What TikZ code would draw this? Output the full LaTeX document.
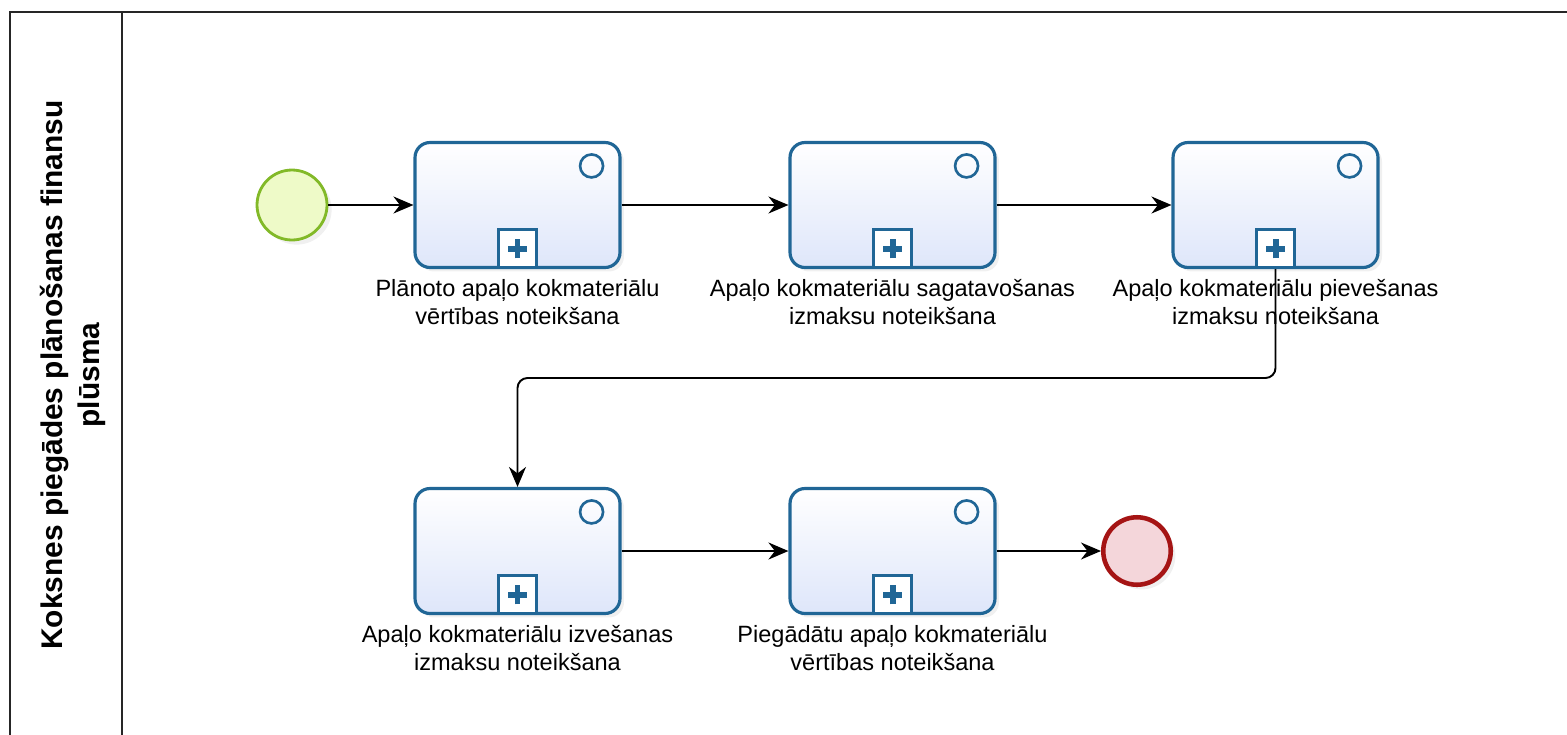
\documentclass[tikz,border=0pt]{standalone}
\usepackage{fontspec}
\setmainfont{Liberation Sans}
\usetikzlibrary{positioning,arrows.meta,calc,shadows}
\definecolor{taskline}{RGB}{32,102,150}
\definecolor{taskfill}{RGB}{222,230,250}
\definecolor{startline}{RGB}{130,185,40}
\definecolor{startfill}{RGB}{238,250,200}
\definecolor{endline}{RGB}{165,20,20}
\definecolor{endfill}{RGB}{244,214,218}
\begin{document}
\begin{tikzpicture}[
    x=0.02cm, y=-0.02cm,
    task/.style={draw=taskline,line width=1.8pt,rounded corners=0.3cm,
        minimum width=4.1cm,minimum height=2.5cm,
        top color=white,bottom color=taskfill,
        drop shadow={opacity=0.12,shadow xshift=0.08cm,shadow yshift=-0.08cm}},
    startev/.style={draw=startline,circle,line width=1.6pt,minimum size=1.4cm,
        fill=startfill,drop shadow={opacity=0.12}},
    endev/.style={draw=endline,circle,line width=2.6pt,minimum size=1.35cm,
        fill=endfill,drop shadow={opacity=0.12}},
    ring/.style={draw=taskline,circle,line width=1.5pt,minimum size=0.46cm,inner sep=0pt},
    subbox/.style={draw=taskline,line width=1.5pt,fill=white,minimum size=0.76cm,inner sep=0pt},
    plus/.style={taskline,line width=3.4pt},
    lbl/.style={align=center,inner sep=0pt,font=\fontsize{13.4}{15.9}\selectfont},
    flow/.style={draw,line width=1.1pt,-{Stealth[length=0.4cm,width=0.34cm,inset=0.13cm]}}
]
\useasboundingbox (0,0) rectangle (1567,734);
% pool and lane
\draw[line width=1.2pt,black!85] (10,760) -- (10,12) -- (1580,12);
\draw[line width=1.2pt,black!85] (122,12) -- (122,760);
\node[rotate=90,align=center,font=\fontsize{17}{21}\selectfont\bfseries] (lane) at (73,375)
    {Koksnes piegādes plānošanas finansu\\plūsma};
% events and tasks
\node[startev] (start) at (292,205) {};
\node[task] (t1) at (517.5,205) {};
\node[task] (t2) at (892.5,205) {};
\node[task] (t3) at (1275.5,205) {};
\node[task] (t4) at (517.5,551) {};
\node[task] (t5) at (892.5,551) {};
\node[endev] (end) at (1137,551) {};
\foreach \t in {t1,t2,t3,t4,t5} {
    \node[ring] at ([xshift=-0.6cm,yshift=-0.5cm]\t.north east) {};
    \node[subbox,anchor=south] (\t-plus) at (\t.south) {};
    \draw[plus] ([xshift=-0.19cm]\t-plus.center) -- ([xshift=0.19cm]\t-plus.center)
        ([yshift=-0.19cm]\t-plus.center) -- ([yshift=0.19cm]\t-plus.center);
}
% labels
\node[lbl,below=0.2cm of t1] (l1) {Plānoto apaļo kokmateriālu\\vērtības noteikšana};
\node[lbl,below=0.2cm of t2] (l2) {Apaļo kokmateriālu sagatavošanas\\izmaksu noteikšana};
\node[lbl,below=0.2cm of t3] (l3) {Apaļo kokmateriālu pievešanas\\izmaksu noteikšana};
\node[lbl,below=0.2cm of t4] (l4) {Apaļo kokmateriālu izvešanas\\izmaksu noteikšana};
\node[lbl,below=0.2cm of t5] (l5) {Piegādātu apaļo kokmateriālu\\vērtības noteikšana};
% flows
\draw[flow] (start) -- (t1);
\draw[flow] (t1) -- (t2);
\draw[flow] (t2) -- (t3);
\draw[flow,rounded corners=0.2cm] (t3.south) |- ($(t3.south)!.5!(t4.north)$) -| (t4.north);
\draw[flow] (t4) -- (t5);
\draw[flow] (t5) -- (end);
\end{tikzpicture}
\end{document}
